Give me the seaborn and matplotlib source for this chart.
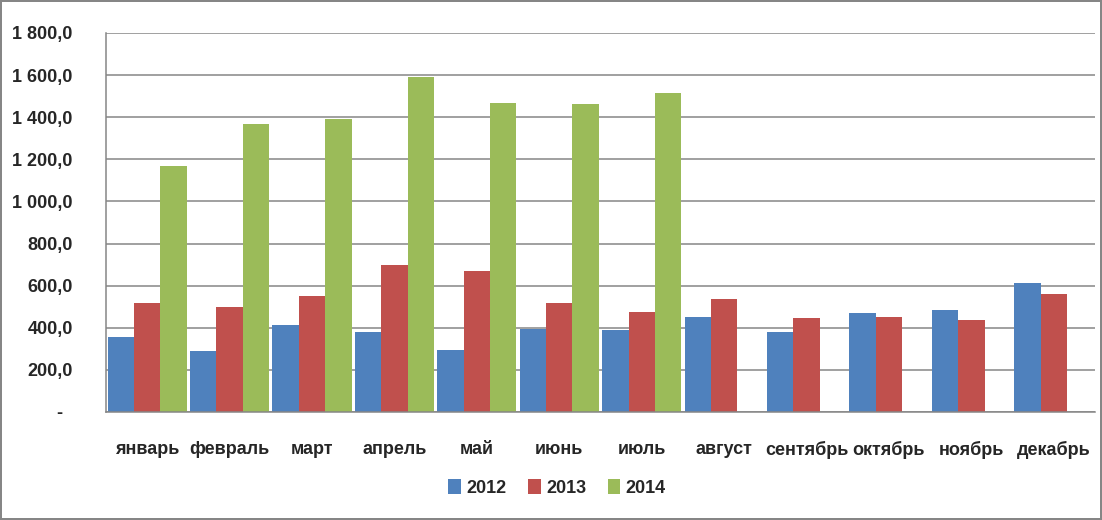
import numpy as np
import pandas as pd
import matplotlib
matplotlib.use("Agg")
import matplotlib.pyplot as plt
import seaborn as sns
from matplotlib.ticker import FuncFormatter, MultipleLocator

months = ["январь", "февраль", "март", "апрель", "май", "июнь", "июль",
          "август", "сентябрь", "октябрь", "ноябрь", "декабрь"]
years = ["2012", "2013", "2014"]
v2012 = [355, 290, 411, 378, 293, 396, 388, 449, 381, 471, 485, 613]
v2013 = [520, 497, 549, 696, 672, 516, 473, 535, 447, 452, 438, 561]
v2014 = [1170, 1369, 1393, 1592, 1469, 1464, 1517, np.nan, np.nan, np.nan, np.nan, np.nan]
colors = ["#4F81BD", "#C0504D", "#9BBB59"]

df = pd.DataFrame({
    "month": months * 3,
    "year": [y for y in years for _ in months],
    "value": v2012 + v2013 + v2014,
})

sns.set_style("white")
plt.rcParams["font.family"] = ["Liberation Sans", "DejaVu Sans"]
plt.rcParams["font.weight"] = "bold"

fig = plt.figure(figsize=(11.02, 5.20), dpi=100)
fig.patch.set_edgecolor("#868686")
fig.patch.set_linewidth(1.5)
ax = fig.add_axes([106 / 1102, 108 / 520, 989 / 1102, 379 / 520])

sns.barplot(data=df, x="month", y="value", hue="year", order=months,
            hue_order=years, palette=colors, width=0.96, gap=0,
            saturation=1, ax=ax, errorbar=None, edgecolor="none")

grid_c = "#868686"
ax.set_xlim(-0.5, 11.5)
ax.set_ylim(0, 1800)
ax.yaxis.set_major_locator(MultipleLocator(200))
ax.grid(axis="y", color=grid_c, lw=1.1)
ax.set_axisbelow(True)

def fmt(v, pos):
    if abs(v) < 1e-9:
        return "-  "
    s = f"{v:,.1f}".replace(",", " ").replace(".", ",")
    return s
ax.yaxis.set_major_formatter(FuncFormatter(fmt))

for s in ["top", "right"]:
    ax.spines[s].set_visible(False)
for s in ["left", "bottom"]:
    ax.spines[s].set_color(grid_c)
    ax.spines[s].set_linewidth(1.1)

ax.set_xticks(np.arange(-0.5, 12, 1), minor=True)
ax.tick_params(axis="x", which="major", length=0, pad=21, labelsize=13)
ax.tick_params(axis="x", which="minor", length=5, color=grid_c, width=1.1, direction="out")
ax.tick_params(axis="y", which="major", length=5, color=grid_c, width=1.1,
               direction="out", pad=19, labelsize=13)
for lbl in ax.get_xticklabels() + ax.get_yticklabels():
    lbl.set_fontweight("bold")
ax.set_xlabel("")
ax.set_ylabel("")

sns.move_legend(ax, "center", bbox_to_anchor=(0.456, -0.2), ncol=3,
                frameon=False, title=None, handlelength=0.7, handleheight=0.9,
                handletextpad=0.3, columnspacing=1.2,
                prop={"weight": "bold", "size": 13})

fig.savefig("out.png", dpi=100, edgecolor=fig.get_edgecolor())
